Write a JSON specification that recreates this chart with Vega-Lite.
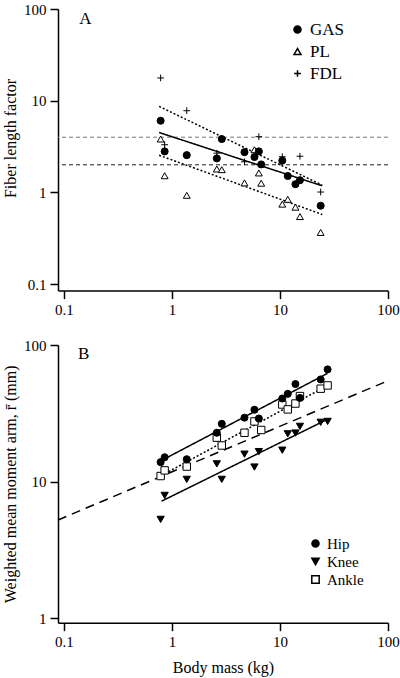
{
  "$schema": "https://vega.github.io/schema/vega-lite/v6.json",
  "background": "white",
  "padding": {"left": 2, "top": 2, "right": 0, "bottom": 1},
  "spacing": 20,
  "resolve": {
    "scale": {"shape": "independent", "fill": "independent", "size": "independent", "strokeDash": "independent", "stroke": "independent"},
    "legend": {"shape": "independent", "fill": "independent", "size": "independent", "stroke": "independent"}
  },
  "config": {
    "font": "Liberation Serif",
    "view": {"stroke": null},
    "axis": {
      "labelFont": "Liberation Serif", "titleFont": "Liberation Serif",
      "labelFontSize": 15, "titleFontSize": 16, "titleFontWeight": "normal",
      "domainColor": "black", "tickColor": "black", "labelColor": "black", "titleColor": "black",
      "domainWidth": 1.5, "tickWidth": 1.5, "tickSize": 8, "grid": false, "labelPadding": 4,
      "labelFlush": false
    },
    "legend": {
      "labelFont": "Liberation Serif", "labelColor": "black", "padding": 0, "labelOffset": 4
    }
  },
  "datasets": {
    "ptsA": [
      {"muscle": "FDL", "mass": 0.785, "y": 17.7},
      {"muscle": "FDL", "mass": 0.855, "y": 3.31},
      {"muscle": "FDL", "mass": 1.37, "y": 7.78},
      {"muscle": "FDL", "mass": 2.6, "y": 2.68},
      {"muscle": "FDL", "mass": 4.69, "y": 2.16},
      {"muscle": "FDL", "mass": 6.37, "y": 4.05},
      {"muscle": "FDL", "mass": 10.5, "y": 2.45},
      {"muscle": "FDL", "mass": 15.3, "y": 2.48},
      {"muscle": "FDL", "mass": 23.8, "y": 1.01},
      {"muscle": "PL", "mass": 0.785, "y": 3.82},
      {"muscle": "PL", "mass": 0.855, "y": 1.52},
      {"muscle": "PL", "mass": 1.37, "y": 0.93},
      {"muscle": "PL", "mass": 2.6, "y": 1.8},
      {"muscle": "PL", "mass": 2.89, "y": 1.77},
      {"muscle": "PL", "mass": 4.69, "y": 1.27},
      {"muscle": "PL", "mass": 5.8, "y": 2.92},
      {"muscle": "PL", "mass": 6.37, "y": 1.63},
      {"muscle": "PL", "mass": 6.7, "y": 1.26},
      {"muscle": "PL", "mass": 10.5, "y": 0.745},
      {"muscle": "PL", "mass": 11.8, "y": 0.84},
      {"muscle": "PL", "mass": 13.9, "y": 0.69},
      {"muscle": "PL", "mass": 15.3, "y": 0.545},
      {"muscle": "PL", "mass": 23.8, "y": 0.366},
      {"muscle": "GAS", "mass": 0.785, "y": 6.05},
      {"muscle": "GAS", "mass": 0.855, "y": 2.8},
      {"muscle": "GAS", "mass": 1.37, "y": 2.55},
      {"muscle": "GAS", "mass": 2.6, "y": 2.35},
      {"muscle": "GAS", "mass": 2.89, "y": 3.82},
      {"muscle": "GAS", "mass": 4.69, "y": 2.75},
      {"muscle": "GAS", "mass": 5.8, "y": 2.43},
      {"muscle": "GAS", "mass": 6.37, "y": 2.8},
      {"muscle": "GAS", "mass": 6.7, "y": 2.02},
      {"muscle": "GAS", "mass": 10.5, "y": 2.22},
      {"muscle": "GAS", "mass": 11.8, "y": 1.51},
      {"muscle": "GAS", "mass": 13.9, "y": 1.23},
      {"muscle": "GAS", "mass": 15.3, "y": 1.36},
      {"muscle": "GAS", "mass": 23.8, "y": 0.716}
    ],
    "fitA": [
      {"fit": "FDL fit", "mass": 0.76, "y": 8.67},
      {"fit": "FDL fit", "mass": 24.6, "y": 1.2},
      {"fit": "GAS fit", "mass": 0.76, "y": 4.5},
      {"fit": "GAS fit", "mass": 24.6, "y": 1.18},
      {"fit": "PL fit", "mass": 0.76, "y": 2.54},
      {"fit": "PL fit", "mass": 24.6, "y": 0.575}
    ],
    "refA": [
      {"level": "4", "y": 4},
      {"level": "2", "y": 2}
    ],
    "labelA": [{"label": "A", "mass": 0.158, "y": 69}],
    "ptsB": [
      {"joint": "Ankle", "mass": 0.785, "y": 11.0},
      {"joint": "Ankle", "mass": 0.855, "y": 12.1},
      {"joint": "Ankle", "mass": 1.37, "y": 12.9},
      {"joint": "Ankle", "mass": 2.6, "y": 21.0},
      {"joint": "Ankle", "mass": 2.89, "y": 18.4},
      {"joint": "Ankle", "mass": 4.69, "y": 22.8},
      {"joint": "Ankle", "mass": 5.8, "y": 27.6},
      {"joint": "Ankle", "mass": 6.7, "y": 23.9},
      {"joint": "Ankle", "mass": 10.5, "y": 36.7},
      {"joint": "Ankle", "mass": 11.8, "y": 33.8},
      {"joint": "Ankle", "mass": 13.9, "y": 37.3},
      {"joint": "Ankle", "mass": 15.3, "y": 42.3},
      {"joint": "Ankle", "mass": 23.8, "y": 47.9},
      {"joint": "Ankle", "mass": 27.6, "y": 50.6},
      {"joint": "Knee", "mass": 0.785, "y": 5.3},
      {"joint": "Knee", "mass": 0.855, "y": 7.94},
      {"joint": "Knee", "mass": 1.37, "y": 10.4},
      {"joint": "Knee", "mass": 2.6, "y": 13.5},
      {"joint": "Knee", "mass": 2.89, "y": 10.4},
      {"joint": "Knee", "mass": 4.69, "y": 15.9},
      {"joint": "Knee", "mass": 5.8, "y": 12.8},
      {"joint": "Knee", "mass": 6.37, "y": 16.6},
      {"joint": "Knee", "mass": 10.5, "y": 17.0},
      {"joint": "Knee", "mass": 11.8, "y": 22.4},
      {"joint": "Knee", "mass": 13.9, "y": 22.7},
      {"joint": "Knee", "mass": 15.3, "y": 25.4},
      {"joint": "Knee", "mass": 23.8, "y": 27.2},
      {"joint": "Knee", "mass": 27.6, "y": 27.6},
      {"joint": "Hip", "mass": 0.785, "y": 13.9},
      {"joint": "Hip", "mass": 0.855, "y": 15.1},
      {"joint": "Hip", "mass": 1.37, "y": 14.6},
      {"joint": "Hip", "mass": 2.6, "y": 22.8},
      {"joint": "Hip", "mass": 2.89, "y": 26.5},
      {"joint": "Hip", "mass": 4.69, "y": 29.4},
      {"joint": "Hip", "mass": 5.8, "y": 33.6},
      {"joint": "Hip", "mass": 6.37, "y": 29.0},
      {"joint": "Hip", "mass": 10.5, "y": 40.6},
      {"joint": "Hip", "mass": 11.8, "y": 43.9},
      {"joint": "Hip", "mass": 13.9, "y": 51.8},
      {"joint": "Hip", "mass": 15.3, "y": 41.0},
      {"joint": "Hip", "mass": 23.8, "y": 56.0},
      {"joint": "Hip", "mass": 27.6, "y": 66.3}
    ],
    "fitB": [
      {"fit": "Hip fit", "mass": 0.8, "y": 14.3},
      {"fit": "Hip fit", "mass": 27.5, "y": 62.0},
      {"fit": "Knee fit", "mass": 0.8, "y": 7.2},
      {"fit": "Knee fit", "mass": 27.5, "y": 28.6},
      {"fit": "Ankle fit", "mass": 0.8, "y": 11.1},
      {"fit": "Ankle fit", "mass": 27.5, "y": 50.5},
      {"fit": "Isometry", "mass": 0.088, "y": 5.25},
      {"fit": "Isometry", "mass": 100, "y": 54.8}
    ],
    "labelB": [{"label": "B", "mass": 0.152, "y": 79.4}]
  },
  "vconcat": [
    {
      "width": 330,
      "height": 281.6,
      "layer": [
        {
          "data": {"name": "refA"},
          "transform": [{"filter": "datum.level == '4'"}],
          "mark": {"type": "rule", "strokeDash": [4, 3], "strokeWidth": 1, "color": "#777777"},
          "encoding": {
            "y": {"field": "y", "type": "quantitative",
              "scale": {"type": "log", "domain": [0.085, 100], "nice": false},
              "axis": {"values": [0.1, 1, 10, 100], "format": "~g", "title": "Fiber length factor", "titlePadding": 5, "titleY": 129}}
          }
        },
        {
          "data": {"name": "refA"},
          "transform": [{"filter": "datum.level == '2'"}],
          "mark": {"type": "rule", "strokeDash": [4, 3], "strokeWidth": 1, "color": "#222222"},
          "encoding": {
            "y": {"field": "y", "type": "quantitative",
              "scale": {"type": "log", "domain": [0.085, 100], "nice": false},
              "axis": {"values": [0.1, 1, 10, 100], "format": "~g", "title": "Fiber length factor", "titlePadding": 5, "titleY": 129}}
          }
        },
        {
          "data": {"name": "fitA"},
          "mark": {"type": "line", "strokeWidth": 1.5, "color": "black"},
          "encoding": {
            "x": {"field": "mass", "type": "quantitative",
              "scale": {"type": "log", "domain": [0.088, 100], "nice": false},
              "axis": {"values": [0.1, 1, 10, 100], "format": "~g", "title": null}},
            "y": {"field": "y", "type": "quantitative",
              "scale": {"type": "log", "domain": [0.085, 100], "nice": false},
              "axis": {"values": [0.1, 1, 10, 100], "format": "~g", "title": "Fiber length factor", "titlePadding": 5, "titleY": 129}},
            "detail": {"field": "fit"},
            "strokeDash": {"field": "fit", "type": "nominal",
              "scale": {"domain": ["GAS fit", "PL fit", "FDL fit"], "range": [[1, 0], [2, 2], [2, 2]]}, "legend": null}
          }
        },
        {
          "data": {"name": "ptsA"},
          "mark": {"type": "point", "filled": true, "strokeWidth": 1, "opacity": 1},
          "encoding": {
            "x": {"field": "mass", "type": "quantitative",
              "scale": {"type": "log", "domain": [0.088, 100], "nice": false},
              "axis": {"values": [0.1, 1, 10, 100], "format": "~g", "title": null}},
            "y": {"field": "y", "type": "quantitative",
              "scale": {"type": "log", "domain": [0.085, 100], "nice": false},
              "axis": {"values": [0.1, 1, 10, 100], "format": "~g", "title": "Fiber length factor", "titlePadding": 5, "titleY": 129}},
            "shape": {"field": "muscle", "type": "nominal",
              "scale": {"domain": ["GAS", "PL", "FDL"], "range": ["circle", "triangle-up", "M-1,0L1,0M0,-1L0,1"]},
              "legend": {"title": null, "orient": "none", "legendX": 231, "legendY": 12, "labelFont": "Liberation Serif", "labelFontSize": 17, "rowPadding": 4, "labelOffset": 4}},
            "fill": {"field": "muscle", "type": "nominal",
              "scale": {"domain": ["GAS", "PL", "FDL"], "range": ["black", "white", "transparent"]},
              "legend": {"title": null, "orient": "none", "legendX": 231, "legendY": 12, "labelFont": "Liberation Serif", "labelFontSize": 17, "rowPadding": 4, "labelOffset": 4}},
            "stroke": {"field": "muscle", "type": "nominal",
              "scale": {"domain": ["GAS", "PL", "FDL"], "range": ["black", "black", "black"]},
              "legend": {"title": null, "orient": "none", "legendX": 231, "legendY": 12, "labelFont": "Liberation Serif", "labelFontSize": 17, "rowPadding": 4, "labelOffset": 4}},
            "size": {"field": "muscle", "type": "nominal",
              "scale": {"domain": ["GAS", "PL", "FDL"], "range": [50, 45, 72]},
              "legend": {"title": null, "orient": "none", "legendX": 231, "legendY": 12, "labelFont": "Liberation Serif", "labelFontSize": 17, "rowPadding": 4, "labelOffset": 4}}
          }
        },
        {
          "data": {"name": "labelA"},
          "mark": {"type": "text", "fontSize": 17, "align": "center", "baseline": "alphabetic", "color": "black"},
          "encoding": {
            "x": {"field": "mass", "type": "quantitative", "scale": {"type": "log", "domain": [0.088, 100], "nice": false}},
            "y": {"field": "y", "type": "quantitative", "scale": {"type": "log", "domain": [0.085, 100], "nice": false}},
            "text": {"field": "label"}
          }
        }
      ]
    },
    {
      "width": 330,
      "height": 277.7,
      "layer": [
        {
          "data": {"name": "fitB"},
          "mark": {"type": "line", "strokeWidth": 1.5, "color": "black"},
          "encoding": {
            "x": {"field": "mass", "type": "quantitative",
              "scale": {"type": "log", "domain": [0.088, 100], "nice": false},
              "axis": {"values": [0.1, 1, 10, 100], "format": "~g", "title": "Body mass (kg)", "titlePadding": 10}},
            "y": {"field": "y", "type": "quantitative",
              "scale": {"type": "log", "domain": [0.93, 100], "nice": false},
              "axis": {"values": [1, 10, 100], "format": "~g", "title": "Weighted mean moment arm, r\u0304 (mm)", "titlePadding": 5}},
            "detail": {"field": "fit"},
            "strokeDash": {"field": "fit", "type": "nominal",
              "scale": {"domain": ["Hip fit", "Knee fit", "Ankle fit", "Isometry"], "range": [[1, 0], [1, 0], [2, 2], [9, 6]]}, "legend": null}
          }
        },
        {
          "data": {"name": "ptsB"},
          "mark": {"type": "point", "filled": true, "strokeWidth": 1, "opacity": 1},
          "encoding": {
            "x": {"field": "mass", "type": "quantitative",
              "scale": {"type": "log", "domain": [0.088, 100], "nice": false},
              "axis": {"values": [0.1, 1, 10, 100], "format": "~g", "title": "Body mass (kg)", "titlePadding": 10}},
            "y": {"field": "y", "type": "quantitative",
              "scale": {"type": "log", "domain": [0.93, 100], "nice": false},
              "axis": {"values": [1, 10, 100], "format": "~g", "title": "Weighted mean moment arm, r\u0304 (mm)", "titlePadding": 5}},
            "shape": {"field": "joint", "type": "nominal",
              "scale": {"domain": ["Hip", "Knee", "Ankle"], "range": ["circle", "triangle-down", "square"]},
              "legend": {"title": null, "orient": "none", "legendX": 250, "legendY": 191, "labelFont": "Liberation Serif", "labelFontSize": 15, "rowPadding": 2, "labelOffset": 4}},
            "fill": {"field": "joint", "type": "nominal",
              "scale": {"domain": ["Hip", "Knee", "Ankle"], "range": ["black", "black", "white"]},
              "legend": {"title": null, "orient": "none", "legendX": 250, "legendY": 191, "labelFont": "Liberation Serif", "labelFontSize": 15, "rowPadding": 2, "labelOffset": 4}},
            "stroke": {"field": "joint", "type": "nominal",
              "scale": {"domain": ["Hip", "Knee", "Ankle"], "range": ["black", "black", "black"]},
              "legend": {"title": null, "orient": "none", "legendX": 250, "legendY": 191, "labelFont": "Liberation Serif", "labelFontSize": 15, "rowPadding": 2, "labelOffset": 4}},
            "size": {"field": "joint", "type": "nominal",
              "scale": {"domain": ["Hip", "Knee", "Ankle"], "range": [50, 55, 45]},
              "legend": {"title": null, "orient": "none", "legendX": 250, "legendY": 191, "labelFont": "Liberation Serif", "labelFontSize": 15, "rowPadding": 2, "labelOffset": 4}}
          }
        },
        {
          "data": {"name": "labelB"},
          "mark": {"type": "text", "fontSize": 17, "align": "center", "baseline": "alphabetic", "color": "black"},
          "encoding": {
            "x": {"field": "mass", "type": "quantitative", "scale": {"type": "log", "domain": [0.088, 100], "nice": false}},
            "y": {"field": "y", "type": "quantitative", "scale": {"type": "log", "domain": [0.93, 100], "nice": false}},
            "text": {"field": "label"}
          }
        }
      ]
    }
  ]
}
